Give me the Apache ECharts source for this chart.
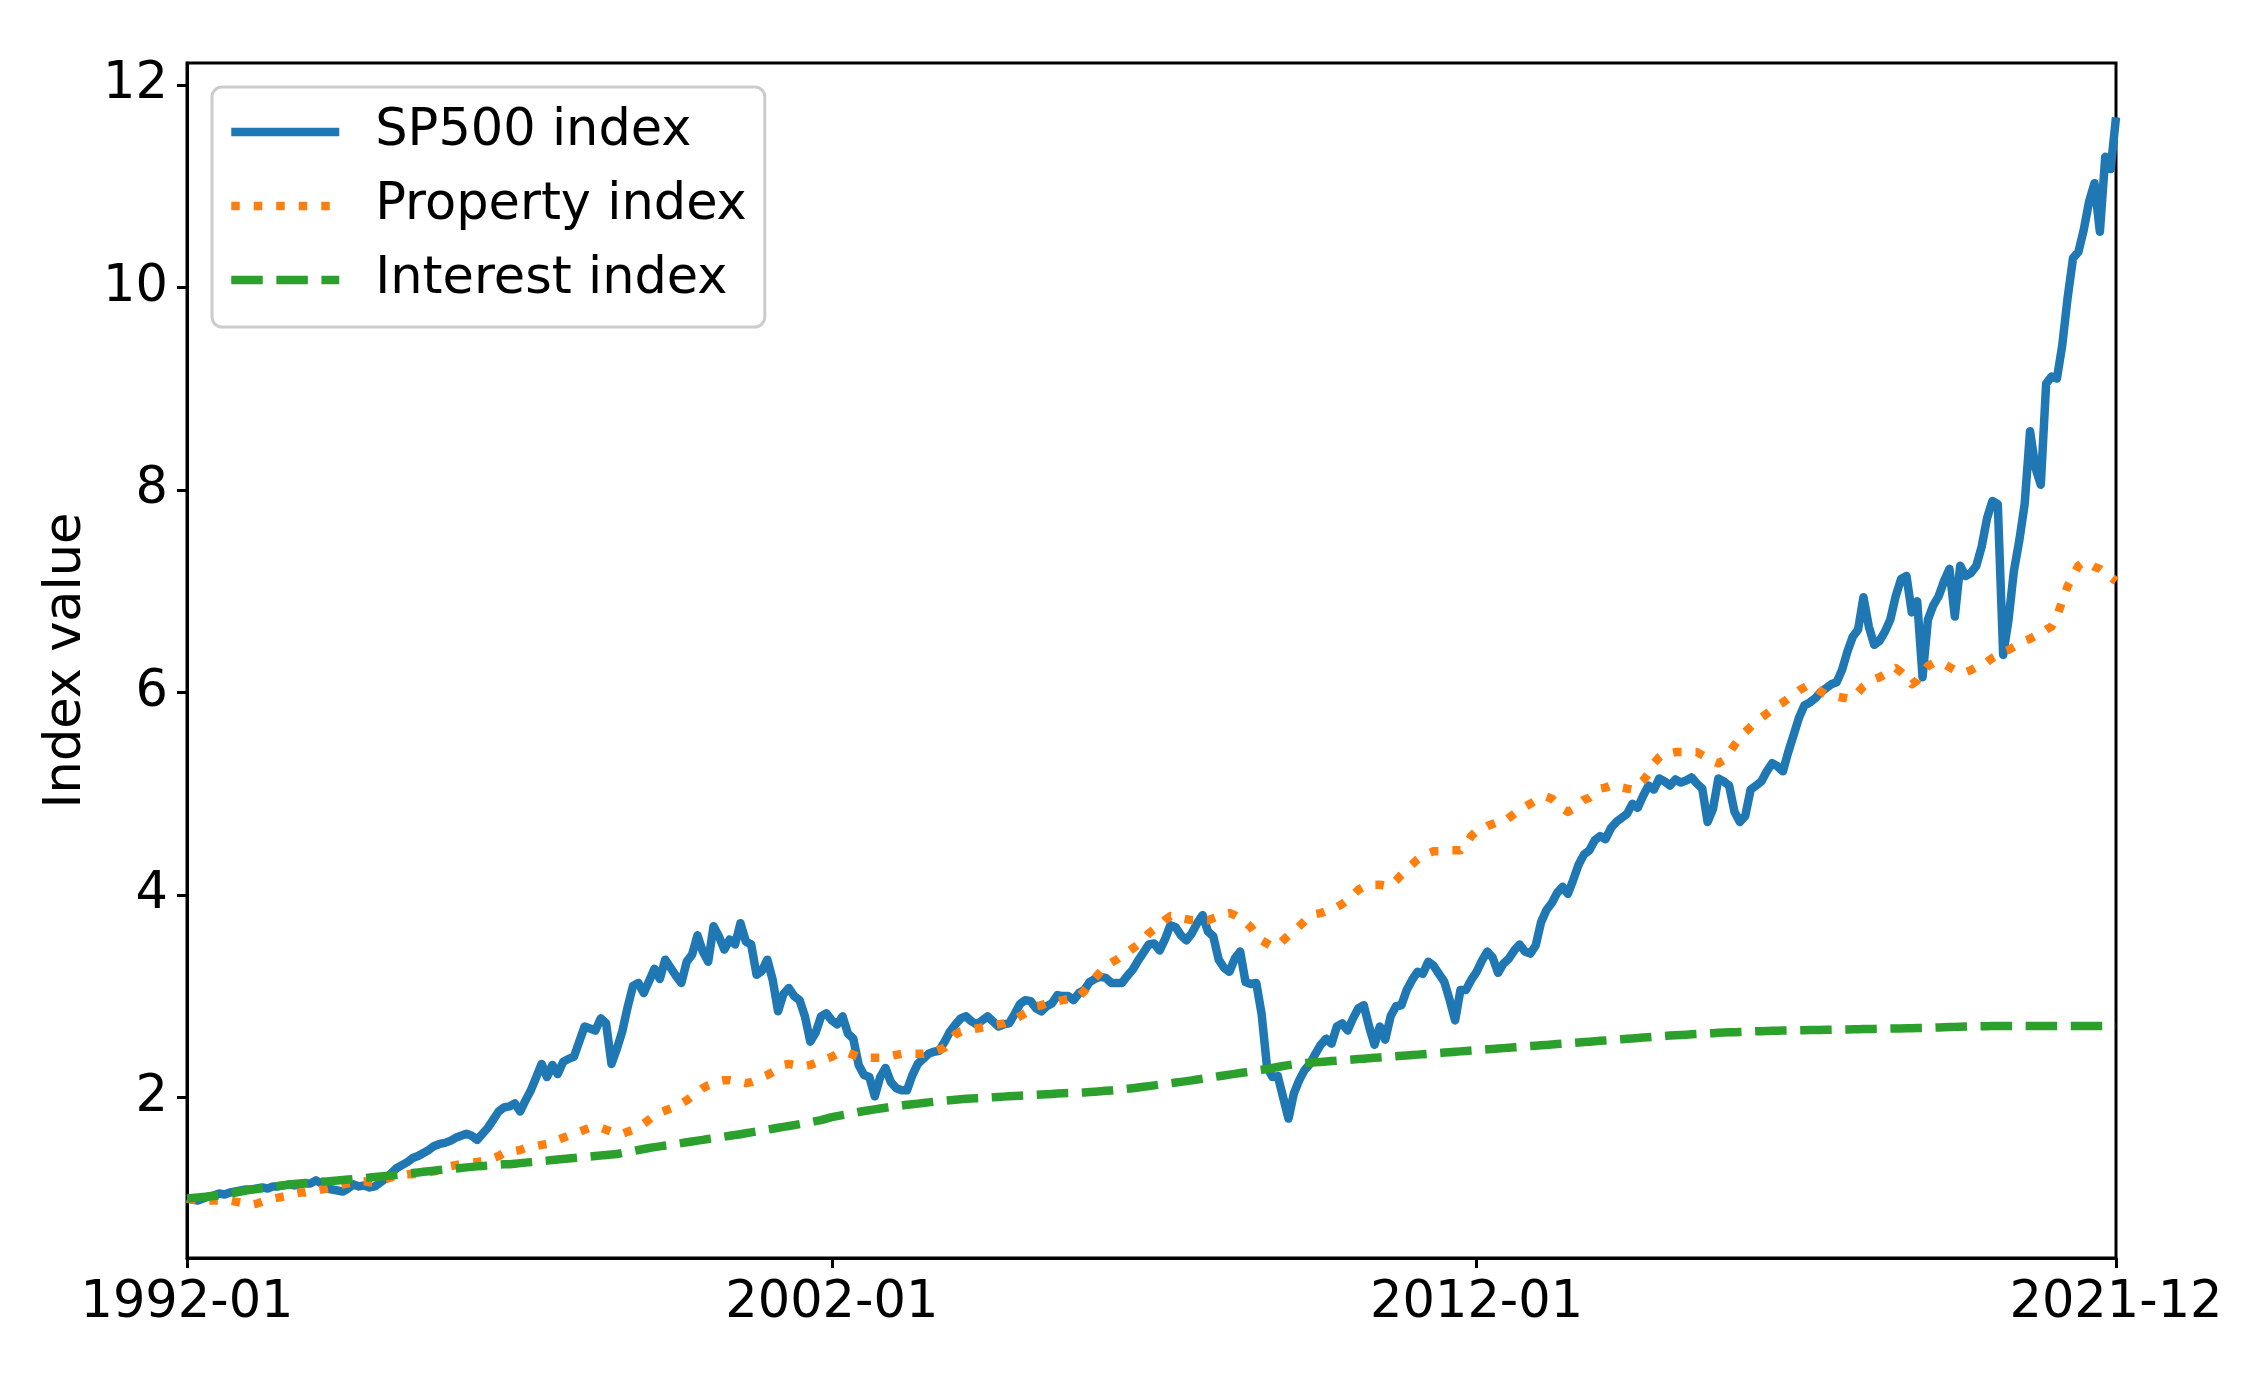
<!DOCTYPE html>
<html>
<head>
<meta charset="utf-8">
<script src="https://cdn.jsdelivr.net/npm/echarts@6/dist/echarts.min.js"></script>
<style>
html,body{margin:0;padding:0;background:#fff;}
#chart{width:2260px;height:1379px;}
</style>
</head>
<body>
<div id="chart"></div>
<script>
// Month categories 1992-01 .. 2021-12
const startYear = 1992, endYear = 2021;
const months = [];
for (let y = startYear; y <= endYear; y++) {
  for (let m = 1; m <= 12; m++) months.push(y + '-' + (m < 10 ? '0' + m : m));
}
const xTickLabels = ['1992-01', '2002-01', '2012-01', '2021-12'];
const yTickValues = [2, 4, 6, 8, 10, 12];
const seriesNames = ['SP500 index', 'Property index', 'Interest index'];

const sp500 = [
1.00,0.99,0.98,1.00,1.02,1.03,1.05,1.04,1.06,1.07,1.08,1.09,
1.09,1.10,1.11,1.10,1.12,1.12,1.13,1.14,1.13,1.14,1.15,1.15,
1.18,1.15,1.10,1.09,1.08,1.07,1.10,1.14,1.12,1.13,1.11,1.12,
1.16,1.20,1.25,1.30,1.33,1.36,1.40,1.42,1.45,1.48,1.52,1.54,
1.55,1.57,1.60,1.62,1.64,1.62,1.58,1.64,1.70,1.78,1.86,1.90,
1.91,1.94,1.86,1.97,2.07,2.20,2.33,2.20,2.32,2.23,2.35,2.38,
2.40,2.55,2.70,2.68,2.66,2.78,2.73,2.33,2.48,2.65,2.89,3.10,
3.13,3.03,3.15,3.27,3.17,3.36,3.28,3.20,3.13,3.34,3.41,3.60,
3.44,3.34,3.69,3.59,3.46,3.56,3.51,3.72,3.54,3.51,3.21,3.25,
3.36,3.16,2.85,3.02,3.08,3.00,2.96,2.80,2.55,2.64,2.80,2.83,
2.76,2.72,2.80,2.63,2.58,2.32,2.22,2.20,2.01,2.20,2.29,2.15,
2.09,2.07,2.07,2.22,2.33,2.38,2.43,2.45,2.46,2.55,2.65,2.72,
2.78,2.80,2.75,2.72,2.76,2.80,2.75,2.70,2.72,2.73,2.82,2.92,
2.96,2.95,2.88,2.85,2.90,2.93,3.01,3.00,3.00,2.96,3.03,3.06,
3.14,3.17,3.19,3.18,3.13,3.13,3.13,3.20,3.26,3.35,3.43,3.51,
3.52,3.45,3.56,3.70,3.68,3.60,3.55,3.62,3.72,3.80,3.64,3.59,
3.36,3.28,3.24,3.37,3.44,3.14,3.12,3.13,2.82,2.30,2.20,2.21,
2.00,1.79,2.04,2.17,2.27,2.33,2.43,2.52,2.58,2.53,2.70,2.73,
2.66,2.78,2.88,2.91,2.70,2.52,2.70,2.57,2.80,2.90,2.91,3.06,
3.16,3.24,3.22,3.34,3.30,3.22,3.14,2.96,2.76,3.06,3.06,3.16,
3.24,3.35,3.44,3.38,3.23,3.32,3.37,3.45,3.51,3.44,3.42,3.50,
3.73,3.85,3.92,4.02,4.08,4.01,4.15,4.30,4.40,4.44,4.54,4.58,
4.55,4.66,4.72,4.76,4.80,4.90,4.86,4.98,5.08,5.04,5.15,5.12,
5.08,5.14,5.11,5.13,5.16,5.10,5.05,4.72,4.85,5.15,5.12,5.08,
4.82,4.72,4.78,5.04,5.08,5.12,5.22,5.30,5.27,5.22,5.41,5.58,
5.75,5.87,5.90,5.94,6.00,6.04,6.08,6.10,6.22,6.40,6.55,6.62,
6.94,6.65,6.47,6.51,6.60,6.72,6.95,7.12,7.15,6.79,6.90,6.15,
6.72,6.86,6.95,7.10,7.22,6.75,7.25,7.15,7.18,7.25,7.44,7.72,
7.89,7.86,6.37,6.72,7.20,7.50,7.86,8.58,8.22,8.05,9.05,9.12,
9.10,9.43,9.90,10.29,10.35,10.57,10.85,11.03,10.55,11.29,11.17,11.68
];

const property = [
1.00,0.99,0.99,0.98,0.98,0.98,0.98,0.98,0.98,0.97,0.96,0.95,
0.94,0.95,0.97,0.98,1.00,1.01,1.02,1.03,1.05,1.06,1.06,1.07,
1.08,1.09,1.10,1.11,1.13,1.14,1.15,1.16,1.17,1.17,1.16,1.16,
1.17,1.19,1.21,1.23,1.23,1.24,1.24,1.25,1.25,1.26,1.27,1.28,
1.30,1.32,1.33,1.34,1.35,1.36,1.36,1.37,1.38,1.40,1.42,1.45,
1.46,1.47,1.48,1.50,1.51,1.52,1.53,1.54,1.56,1.58,1.60,1.62,
1.64,1.66,1.68,1.70,1.70,1.70,1.68,1.66,1.64,1.64,1.66,1.68,
1.71,1.74,1.78,1.82,1.85,1.87,1.89,1.91,1.94,1.97,2.01,2.05,
2.09,2.12,2.14,2.16,2.17,2.17,2.16,2.15,2.14,2.15,2.17,2.20,
2.22,2.25,2.28,2.32,2.33,2.32,2.31,2.31,2.32,2.34,2.36,2.38,
2.40,2.43,2.45,2.44,2.42,2.40,2.39,2.39,2.39,2.39,2.40,2.41,
2.42,2.43,2.43,2.43,2.43,2.43,2.44,2.45,2.47,2.49,2.55,2.62,
2.65,2.66,2.67,2.68,2.69,2.70,2.71,2.72,2.73,2.75,2.77,2.80,
2.83,2.86,2.90,2.91,2.93,2.94,2.95,2.96,2.97,2.99,3.00,3.05,
3.12,3.18,3.24,3.30,3.33,3.36,3.40,3.43,3.47,3.51,3.56,3.62,
3.66,3.70,3.75,3.79,3.78,3.77,3.76,3.75,3.75,3.75,3.75,3.77,
3.79,3.81,3.82,3.80,3.77,3.73,3.68,3.60,3.55,3.52,3.49,3.50,
3.55,3.60,3.64,3.69,3.74,3.79,3.81,3.82,3.84,3.86,3.88,3.91,
3.95,4.00,4.05,4.08,4.10,4.10,4.10,4.09,4.09,4.14,4.20,4.25,
4.30,4.35,4.39,4.41,4.43,4.43,4.43,4.44,4.44,4.44,4.50,4.58,
4.63,4.65,4.68,4.70,4.72,4.72,4.76,4.80,4.84,4.87,4.90,4.93,
4.95,4.97,4.95,4.90,4.85,4.82,4.85,4.90,4.94,4.96,5.00,5.05,
5.06,5.08,5.07,5.06,5.05,5.04,5.08,5.13,5.20,5.30,5.36,5.40,
5.40,5.41,5.41,5.41,5.41,5.41,5.38,5.35,5.32,5.30,5.33,5.40,
5.48,5.55,5.61,5.66,5.71,5.75,5.79,5.83,5.87,5.90,5.94,5.98,
6.02,6.05,6.08,6.05,6.01,5.98,5.97,5.96,5.95,5.94,5.94,6.00,
6.06,6.10,6.13,6.15,6.18,6.22,6.24,6.20,6.15,6.08,6.12,6.20,
6.26,6.29,6.30,6.28,6.25,6.22,6.20,6.20,6.22,6.25,6.27,6.30,
6.34,6.37,6.40,6.42,6.45,6.48,6.51,6.53,6.56,6.58,6.62,6.65,
6.75,6.90,7.05,7.15,7.25,7.29,7.27,7.24,7.22,7.18,7.14,7.10
];

const interest = [
1.000,1.005,1.010,1.015,1.020,1.025,1.030,1.040,1.050,1.060,1.070,1.080,
1.088,1.095,1.102,1.110,1.118,1.125,1.132,1.138,1.143,1.148,1.153,1.158,
1.162,1.166,1.170,1.174,1.178,1.183,1.188,1.193,1.198,1.203,1.208,1.213,
1.218,1.223,1.228,1.234,1.240,1.246,1.252,1.258,1.264,1.270,1.276,1.282,
1.288,1.293,1.298,1.303,1.308,1.313,1.318,1.322,1.326,1.330,1.334,1.338,
1.340,1.345,1.350,1.355,1.360,1.365,1.370,1.375,1.380,1.385,1.390,1.395,
1.400,1.405,1.410,1.415,1.420,1.425,1.430,1.435,1.440,1.450,1.460,1.470,
1.480,1.490,1.500,1.508,1.516,1.524,1.532,1.540,1.548,1.556,1.564,1.572,
1.580,1.588,1.596,1.604,1.612,1.620,1.628,1.636,1.645,1.654,1.663,1.672,
1.681,1.690,1.699,1.708,1.717,1.726,1.735,1.745,1.755,1.765,1.775,1.790,
1.805,1.815,1.825,1.835,1.845,1.855,1.865,1.873,1.881,1.889,1.897,1.905,
1.912,1.919,1.926,1.932,1.938,1.944,1.950,1.956,1.962,1.967,1.972,1.977,
1.981,1.985,1.989,1.992,1.995,1.998,2.001,2.004,2.007,2.010,2.013,2.016,
2.019,2.022,2.025,2.028,2.031,2.034,2.037,2.040,2.042,2.044,2.046,2.048,
2.052,2.056,2.060,2.064,2.068,2.073,2.078,2.084,2.090,2.097,2.104,2.111,
2.118,2.125,2.132,2.139,2.146,2.153,2.160,2.168,2.176,2.184,2.192,2.200,
2.208,2.216,2.224,2.232,2.240,2.248,2.256,2.264,2.272,2.280,2.290,2.300,
2.310,2.318,2.326,2.332,2.338,2.342,2.346,2.350,2.354,2.358,2.362,2.366,
2.370,2.374,2.378,2.382,2.386,2.390,2.394,2.398,2.402,2.406,2.410,2.414,
2.418,2.422,2.426,2.430,2.434,2.438,2.442,2.446,2.450,2.454,2.458,2.462,
2.466,2.470,2.474,2.478,2.482,2.486,2.490,2.494,2.498,2.502,2.506,2.510,
2.514,2.518,2.522,2.526,2.530,2.534,2.538,2.542,2.546,2.550,2.554,2.558,
2.562,2.566,2.570,2.574,2.578,2.582,2.586,2.590,2.594,2.598,2.602,2.606,
2.610,2.613,2.616,2.619,2.622,2.625,2.628,2.631,2.634,2.637,2.640,2.642,
2.644,2.646,2.648,2.650,2.652,2.654,2.656,2.657,2.658,2.659,2.660,2.661,
2.662,2.663,2.664,2.665,2.666,2.667,2.668,2.669,2.670,2.671,2.672,2.673,
2.674,2.675,2.676,2.677,2.678,2.679,2.680,2.681,2.682,2.683,2.684,2.685,
2.686,2.688,2.690,2.692,2.694,2.696,2.698,2.699,2.700,2.701,2.702,2.703,
2.704,2.705,2.705,2.705,2.705,2.705,2.705,2.705,2.705,2.705,2.705,2.705,
2.705,2.705,2.705,2.705,2.705,2.705,2.705,2.705,2.705,2.705,2.705,2.705
];

const FONT = 'DejaVu Sans';
const FS = 51;
const LW = 8.5;

const chart = echarts.init(document.getElementById('chart'), null, {renderer: 'canvas'});
const showIdx = (i, v) => xTickLabels.indexOf(v) !== -1;

chart.setOption({
  animation: false,
  backgroundColor: '#ffffff',
  textStyle: {fontFamily: FONT, color: '#000'},
  grid: {
    left: 187, right: 144, top: 63, bottom: 121,
    show: true, borderColor: '#000', borderWidth: 3, backgroundColor: 'transparent',
    containLabel: false
  },
  legend: {
    show: true,
    orient: 'vertical',
    left: 212, top: 87,
    padding: [19, 18, 21, 15],
    itemGap: 22,
    itemWidth: 108,
    itemHeight: 14,
    backgroundColor: '#ffffff',
    borderColor: '#cccccc',
    borderWidth: 3,
    borderRadius: 10,
    itemStyle: {opacity: 0, borderWidth: 0},
    lineStyle: {width: 'inherit', type: 'inherit', cap: 'butt'},
    textStyle: {fontFamily: FONT, fontSize: FS, color: '#000', lineHeight: 52, padding: [0, 0, 0, 31]},
    data: seriesNames
  },
  xAxis: {
    type: 'category',
    data: months,
    boundaryGap: false,
    axisLine: {show: true, onZero: false, lineStyle: {color: '#000', width: 3}},
    axisTick: {show: true, length: 10, interval: showIdx, lineStyle: {color: '#000', width: 3}},
    axisLabel: {show: true, interval: showIdx, margin: 20, fontFamily: FONT, fontSize: FS, color: '#000'},
    splitLine: {show: false}
  },
  yAxis: {
    type: 'value',
    min: 0.413, max: 12.217,
    name: 'Index value',
    nameLocation: 'middle',
    nameRotate: 90,
    nameGap: 95,
    nameTextStyle: {fontFamily: FONT, fontSize: FS, color: '#000'},
    axisLine: {show: true, lineStyle: {color: '#000', width: 3}},
    axisTick: {show: true, length: 10, customValues: yTickValues, lineStyle: {color: '#000', width: 3}},
    axisLabel: {show: true, margin: 19, customValues: yTickValues, fontFamily: FONT, fontSize: FS, color: '#000',
      formatter: v => String(Math.round(v))},
    splitLine: {show: false}
  },
  series: [
    {name: seriesNames[0], type: 'line', data: sp500, symbol: 'none', smooth: false,
      lineStyle: {color: '#1f77b4', width: LW, type: 'solid', join: 'round', cap: 'butt'},
      itemStyle: {color: '#1f77b4'}},
    {name: seriesNames[1], type: 'line', data: property, symbol: 'none', smooth: false,
      lineStyle: {color: '#ff7f0e', width: LW, type: [8.5, 14], join: 'round', cap: 'butt'},
      itemStyle: {color: '#ff7f0e'}},
    {name: seriesNames[2], type: 'line', data: interest, symbol: 'none', smooth: false,
      lineStyle: {color: '#2ca02c', width: LW, type: [31.5, 13.6], join: 'round', cap: 'butt'},
      itemStyle: {color: '#2ca02c'}}
  ]
});
</script>
</body>
</html>
